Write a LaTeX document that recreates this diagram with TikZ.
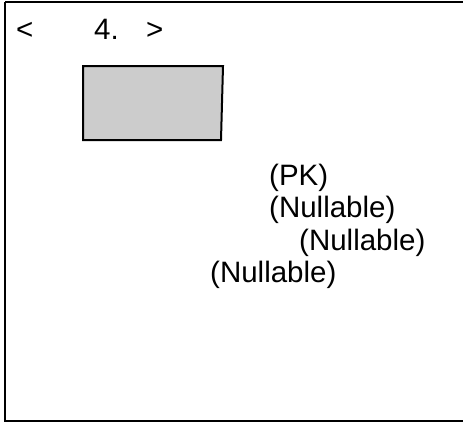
\documentclass[tikz,border=0pt]{standalone}
\usepackage{fontspec}
\setmainfont{Liberation Sans}
\begin{document}
\begin{tikzpicture}[x=1pt,y=-1pt,
  lbl/.style={inner sep=0pt,anchor=base west,font=\fontsize{29.5}{34}\selectfont},
  frame/.style={draw=black,line width=2pt},
  tbl/.style={draw=black,line width=2pt,fill=black!20}]
\useasboundingbox (0,0) rectangle (463,423);
\draw[frame] (5,2) -- (5,421) -- (470,421) (5,2) -- (470,2);
\draw[tbl] (83,66) -- (223,66) -- (221,140) -- (83,140) -- cycle;
\node[lbl] (lt) at (16,39) {<};
\node[lbl] (num) at (94,39) {4.};
\node[lbl] (gt) at (146,39) {>};
\node[lbl] (pk) at (269,185) {(PK)};
\node[lbl] (n1) at (269,217) {(Nullable)};
\node[lbl] (n2) at (299,250) {(Nullable)};
\node[lbl] (n3) at (210,282) {(Nullable)};
\end{tikzpicture}
\end{document}
